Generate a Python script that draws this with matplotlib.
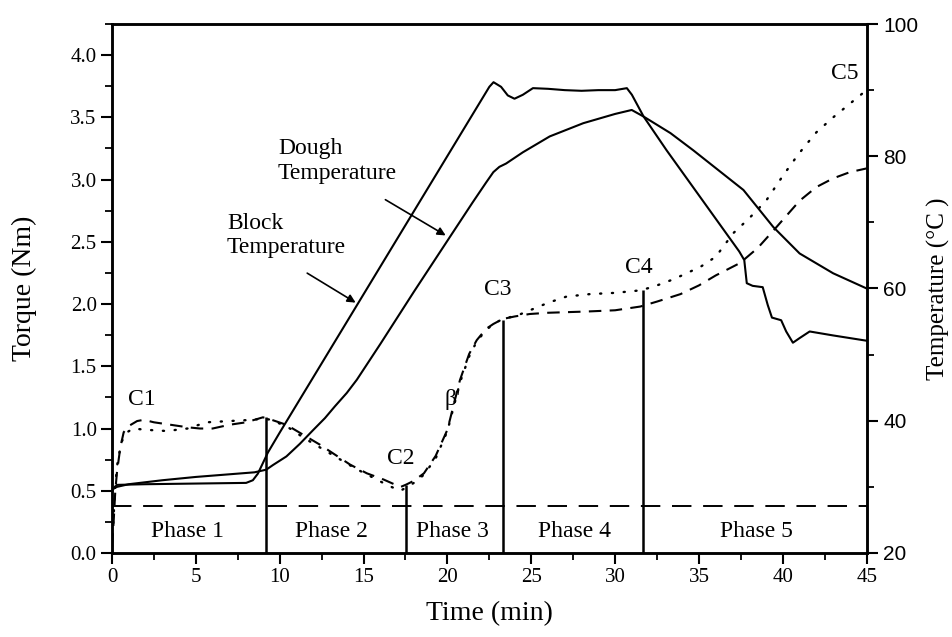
import matplotlib
matplotlib.use("Agg")
import matplotlib.pyplot as plt
from matplotlib.ticker import MultipleLocator

serif = ['Liberation Serif', 'DejaVu Serif']
sans = ['Liberation Sans', 'DejaVu Sans']

# block temperature (right axis, C)
block_t = [0, 0.3, 2, 5, 8.0, 8.4, 8.7, 9.0, 9.3, 10.0, 22.5, 22.75, 23.2, 23.6, 24.0, 24.5, 25.1,
           26, 27, 28, 29, 30, 30.7, 31.0, 31.7, 33.07, 37.4, 37.7, 37.85, 38.2, 38.8, 39.1, 39.35,
           39.9, 40.2, 40.6, 41.0, 41.6, 43, 45]
block_c = [29.5, 30.3, 30.4, 30.5, 30.6, 31.0, 32.0, 33.6, 35.2, 38.2, 90.5, 91.2, 90.5, 89.2, 88.7,
           89.3, 90.3, 90.2, 90.0, 89.9, 90.0, 90.0, 90.3, 89.3, 86.0, 80.9, 65.6, 64.3, 60.8, 60.4,
           60.2, 57.5, 55.6, 55.2, 53.5, 51.8, 52.5, 53.5, 52.9, 52.1]

# dough temperature (right axis, C)
dough_t = [0, 0.3, 1, 3, 5, 7, 8.5, 9.2, 9.6, 10.4, 11.2, 12.0, 12.7, 13.3, 14.0, 14.6, 16, 18,
           20.15, 21.5, 22.3, 22.74, 23.1, 23.5, 24.5, 26.1, 28.1, 30.0, 30.99, 31.7, 33.3, 34.66,
           37.65, 39.43, 41.0, 43.0, 45]
dough_c = [29.6, 30.0, 30.4, 31.0, 31.5, 31.9, 32.2, 32.6, 33.3, 34.6, 36.5, 38.6, 40.4, 42.2, 44.2,
           46.2, 51.6, 59.5, 67.8, 73.0, 76.0, 77.6, 78.4, 78.9, 80.6, 83.0, 85.0, 86.4, 87.0, 86.0,
           83.5, 80.9, 74.9, 69.3, 65.3, 62.3, 60.0]

# torque, dashed run (left axis, Nm)
dash_t = [0, 0.1, 0.2, 0.3, 0.5, 0.7, 1.0, 1.5, 1.9, 2.5, 3.5, 4.5, 5.25, 6, 7, 8, 9.0, 9.3, 10.4,
          11.4, 12.4, 13.3, 14.2, 15.2, 16.2, 17.2, 17.55, 18.0, 18.6, 19.3, 20.0, 20.75, 21.3, 21.75,
          22.3, 22.74, 23.3, 24.0, 24.9, 26, 28.3, 30, 31.5, 32.5, 33.9, 35, 36, 37.45, 38.5, 39.5,
          41.0, 42, 43, 44, 45]
dash_nm = [0.05, 0.25, 0.5, 0.65, 0.85, 0.97, 1.02, 1.06, 1.07, 1.05, 1.03, 1.01, 1.0, 1.0, 1.03,
           1.05, 1.09, 1.08, 1.03, 0.95, 0.87, 0.79, 0.71, 0.64, 0.59, 0.53, 0.55, 0.58, 0.64, 0.78,
           0.99, 1.39, 1.60, 1.71, 1.80, 1.84, 1.88, 1.90, 1.92, 1.93, 1.94, 1.95, 1.98, 2.02, 2.08,
           2.15, 2.23, 2.33, 2.45, 2.60, 2.83, 2.94, 3.01, 3.06, 3.09]

# torque, dotted run (left axis, Nm)
dot_t = [0, 0.1, 0.2, 0.35, 0.6, 0.9, 1.27, 2, 3.26, 4.5, 5.65, 7, 8.4, 9.0, 9.5, 10.5, 11.5, 12.5,
         13.5, 14.5, 15.5, 16.5, 17.2, 17.6, 18.2, 18.6, 19.3, 20.0, 20.75, 21.3, 21.75, 22.3, 22.74,
         23.3, 24.2, 25.1, 26, 27.1, 28.5, 30, 31.5, 32.3, 33.5, 35.1, 36, 37.05, 38, 39.0, 40, 40.8,
         41.2, 42, 43, 44, 45]
dot_nm = [0.05, 0.3, 0.55, 0.75, 0.9, 0.97, 1.0, 0.99, 0.98, 1.0, 1.05, 1.06, 1.07, 1.08, 1.07, 1.01,
          0.92, 0.84, 0.76, 0.68, 0.61, 0.54, 0.50, 0.53, 0.58, 0.63, 0.76, 0.98, 1.37, 1.58, 1.70,
          1.79, 1.84, 1.88, 1.91, 1.96, 2.01, 2.06, 2.08, 2.09, 2.11, 2.14, 2.20, 2.30, 2.38, 2.57,
          2.69, 2.83, 3.03, 3.18, 3.25, 3.38, 3.50, 3.61, 3.72]

# phase boundaries and where their lines stop
phase_x = [9.2, 17.55, 23.3, 31.65]
phase_top = [1.09, 0.55, 1.87, 2.11]
phase_names = ['Phase 1', 'Phase 2', 'Phase 3', 'Phase 4', 'Phase 5']
phase_label_x = [4.5, 13.1, 20.3, 27.55, 38.4]
base_line = 0.375

point_names = ['C1', 'C2', 'C3', 'C4', 'C5', "\u03b2'"]
point_x = [1.78, 17.2, 23.0, 31.4, 43.7, 20.3]
point_y = [1.23, 0.76, 2.12, 2.29, 3.85, 1.23]

fig = plt.figure(figsize=(9.52, 6.37), dpi=100)
ax = fig.add_axes([0.1176, 0.1319, 0.7928, 0.8304])
ax2 = ax.twinx()

ax.plot(dash_t, dash_nm, color='black', lw=1.5, dashes=(6, 4))
ax.plot(dot_t, dot_nm, color='black', lw=1.7, dashes=(0.5, 4.5), dash_capstyle='round')
ax2.plot(block_t, block_c, color='black', lw=1.5)
ax2.plot(dough_t, dough_c, color='black', lw=1.5)

ax.axhline(base_line, color='black', lw=1.4, dashes=(10, 6))
ax.vlines(phase_x, 0, phase_top, color='black', lw=1.8)

for name, x in zip(phase_names, phase_label_x):
    ax.text(x, 0.17, name, ha='center', va='center', fontsize=17, family=serif)
for name, x, y in zip(point_names, point_x, point_y):
    ax.text(x, y, name, ha='center', va='center', fontsize=17, family=serif)

ax.text(9.9, 3.15, 'Dough\nTemperature', ha='left', va='center', fontsize=17, family=serif,
        linespacing=1.2)
ax.text(6.86, 2.55, 'Block\nTemperature', ha='left', va='center', fontsize=17, family=serif,
        linespacing=1.2)
ax.annotate('', xy=(20.04, 2.54), xytext=(16.16, 2.85),
            arrowprops=dict(arrowstyle='-|>', color='black', lw=1.2, mutation_scale=12))
ax.annotate('', xy=(14.67, 2.0), xytext=(11.5, 2.26),
            arrowprops=dict(arrowstyle='-|>', color='black', lw=1.2, mutation_scale=12))

ax.set_xlim(0, 45)
ax.set_ylim(0, 4.25)
ax2.set_ylim(20, 100)

ax.xaxis.set_major_locator(MultipleLocator(5))
ax.xaxis.set_minor_locator(MultipleLocator(2.5))
ax.yaxis.set_major_locator(MultipleLocator(0.5))
ax.yaxis.set_minor_locator(MultipleLocator(0.25))
ax2.yaxis.set_major_locator(MultipleLocator(20))
ax2.yaxis.set_minor_locator(MultipleLocator(10))

ax.set_yticks([0, 0.5, 1.0, 1.5, 2.0, 2.5, 3.0, 3.5, 4.0])
ax.set_yticklabels(['0.0', '0.5', '1.0', '1.5', '2.0', '2.5', '3.0', '3.5', '4.0'])

ax.tick_params(which='major', direction='out', length=8, width=1.5, labelsize=15, pad=3,
               top=False, right=False, labelfontfamily='Liberation Serif')
ax.tick_params(which='minor', direction='out', length=5, width=1.3, top=False, right=False)
ax2.tick_params(which='major', direction='out', length=8, width=1.5, labelsize=15, pad=4,
                labelfontfamily='Liberation Sans')
ax2.tick_params(which='minor', direction='out', length=5, width=1.3)

for a in (ax, ax2):
    for s in a.spines.values():
        s.set_linewidth(1.8)

ax.set_xlabel('Time (min)', fontsize=20, family=serif, labelpad=10)
ax.set_ylabel('Torque (Nm)', fontsize=20, family=serif, labelpad=24)
ax2.set_ylabel('Temperature (\u00b0C )', fontsize=18, family=serif, labelpad=6)

fig.savefig('out.png', dpi=100)
